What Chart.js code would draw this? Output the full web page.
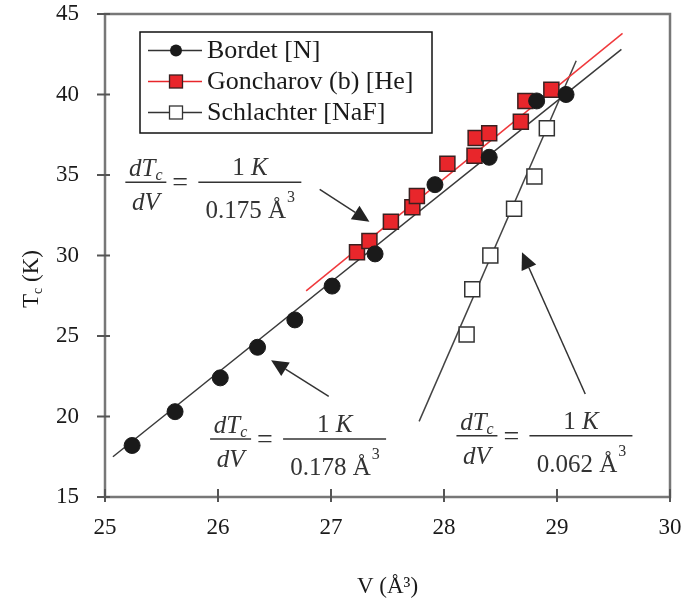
<!DOCTYPE html>
<html>
<head>
<meta charset="utf-8">
<script src="https://cdn.jsdelivr.net/npm/chart.js@4.4.0/dist/chart.umd.min.js"></script>
<style>
  html, body { margin: 0; padding: 0; background: #fff; }
  #wrap { width: 683px; height: 601px; }
</style>
</head>
<body>
<div id="wrap"><canvas id="tc-chart" width="683" height="601"></canvas></div>
<script>
// axis ticks
const xTicks = [25, 26, 27, 28, 29, 30];
const yTicks = [15, 20, 25, 30, 35, 40, 45];

const seriesNames = ['Bordet [N]', 'Goncharov (b) [He]', 'Schlachter [NaF]'];

// measured points (V in A^3, Tc in K)
const bordetV = [25.24, 25.62, 26.02, 26.35, 26.68, 27.01, 27.39, 27.92, 28.40, 28.82, 29.08];
const bordetTc = [18.2, 20.3, 22.4, 24.3, 26.0, 28.1, 30.1, 34.4, 36.1, 39.6, 40.0];

const goncharovV = [27.23, 27.34, 27.53, 27.72, 27.76, 28.03, 28.27, 28.28, 28.40, 28.68, 28.72, 28.95];
const goncharovTc = [30.2, 30.9, 32.1, 33.0, 33.7, 35.7, 36.2, 37.3, 37.6, 38.3, 39.6, 40.3];

const schlachterV = [28.20, 28.25, 28.41, 28.62, 28.80, 28.91];
const schlachterTc = [25.1, 27.9, 30.0, 32.9, 34.9, 37.9];

// linear fits (end points)
const bordetFitV = [25.07, 29.57];
const bordetFitTc = [17.5, 42.8];
const goncharovFitV = [26.78, 29.58];
const goncharovFitTc = [27.8, 43.8];
const schlachterFitV = [27.78, 29.17];
const schlachterFitTc = [19.7, 42.1];

// slope labels: denominator, formula anchor (V, Tc), arrow from / to (V, Tc)
const slopeLabels = ['0.175', '0.178', '0.062'];
const slopeAnchors = [[25.18, 34.55], [25.93, 18.6], [28.11, 18.8]];
const arrowFrom = [[26.90, 34.1], [26.98, 21.25], [29.25, 21.4]];
const arrowTo = [[27.34, 32.1], [26.47, 23.5], [28.69, 30.2]];

const toPts = (xs, ys) => xs.map((x, i) => ({ x: x, y: ys[i] }));

const RED = '#e8262b';
const SERIF = '"Liberation Serif", "DejaVu Serif", serif';

function fitLine(xs, ys, color) {
  return {
    type: 'line', data: toPts(xs, ys), borderColor: color, borderWidth: 1.5,
    pointRadius: 0, showLine: true, fill: false, label: ''
  };
}

// draws box, cross ticks, legend, slope formulas, arrows and y title
const decorPlugin = {
  id: 'decor',
  beforeDatasetsDraw(chart) {
    const { ctx, chartArea: a, scales } = chart;
    ctx.save();
    ctx.strokeStyle = '#777';
    ctx.lineWidth = 2.5;
    ctx.strokeRect(a.left, a.top, a.right - a.left, a.bottom - a.top);
    ctx.lineWidth = 2;
    ctx.strokeStyle = '#555';
    yTicks.forEach(v => {
      const py = scales.y.getPixelForValue(v);
      ctx.beginPath(); ctx.moveTo(a.left - 8, py); ctx.lineTo(a.left + 5, py); ctx.stroke();
    });
    xTicks.forEach(v => {
      const px = scales.x.getPixelForValue(v);
      ctx.beginPath(); ctx.moveTo(px, a.bottom - 8); ctx.lineTo(px, a.bottom + 5); ctx.stroke();
    });
    ctx.restore();
  },
  afterDatasetsDraw(chart) {
    const { ctx, chartArea: a, scales } = chart;
    const X = v => scales.x.getPixelForValue(v);
    const Y = v => scales.y.getPixelForValue(v);
    ctx.save();

    // arrows
    ctx.strokeStyle = '#333';
    ctx.fillStyle = '#222';
    ctx.lineWidth = 1.5;
    arrowFrom.forEach((f, i) => {
      const x0 = X(f[0]), y0 = Y(f[1]), x1 = X(arrowTo[i][0]), y1 = Y(arrowTo[i][1]);
      const ang = Math.atan2(y1 - y0, x1 - x0);
      const hl = 17, hw = 8;
      const bx = x1 - hl * Math.cos(ang), by = y1 - hl * Math.sin(ang);
      ctx.beginPath(); ctx.moveTo(x0, y0); ctx.lineTo(bx, by); ctx.stroke();
      ctx.beginPath();
      ctx.moveTo(x1, y1);
      ctx.lineTo(bx + hw * Math.sin(ang), by - hw * Math.cos(ang));
      ctx.lineTo(bx - hw * Math.sin(ang), by + hw * Math.cos(ang));
      ctx.closePath(); ctx.fill();
    });

    // slope formulas
    slopeLabels.forEach((d, i) => {
      drawFormula(ctx, X(slopeAnchors[i][0]), Y(slopeAnchors[i][1]), d);
    });

    // legend
    const lx = 140, ly = 32, lw = 292, lh = 101;
    ctx.fillStyle = '#fff';
    ctx.fillRect(lx, ly, lw, lh);
    ctx.strokeStyle = '#111';
    ctx.lineWidth = 1.5;
    ctx.strokeRect(lx, ly, lw, lh);
    const rows = [50, 81, 112];
    const ds = chart.data.datasets;
    rows.forEach((ry, i) => {
      const set = ds[i];
      const cx = lx + 36, cy = ry + 0.5;
      ctx.strokeStyle = i === 1 ? RED : '#333';
      ctx.lineWidth = 1.3;
      ctx.beginPath(); ctx.moveTo(lx + 8, cy); ctx.lineTo(lx + 62, cy); ctx.stroke();
      ctx.fillStyle = set.pointBackgroundColor;
      ctx.strokeStyle = set.pointBorderColor;
      ctx.lineWidth = 1.3;
      if (set.pointStyle === 'circle') {
        ctx.beginPath(); ctx.arc(cx, cy, 6, 0, Math.PI * 2); ctx.fill();
      } else {
        ctx.fillRect(cx - 6.5, cy - 6.5, 13, 13);
        ctx.strokeRect(cx - 6.5, cy - 6.5, 13, 13);
      }
      ctx.fillStyle = '#1a1a1a';
      ctx.font = '26px ' + SERIF;
      ctx.textBaseline = 'middle';
      ctx.textAlign = 'left';
      ctx.fillText(set.label, lx + 67, cy + 1);
    });

    // y axis title: T_c (K)
    ctx.translate(30, 279);
    ctx.rotate(-Math.PI / 2);
    ctx.fillStyle = '#1a1a1a';
    ctx.textBaseline = 'alphabetic';
    ctx.font = '23px ' + SERIF;
    const wT = ctx.measureText('T').width;
    ctx.font = '14px ' + SERIF;
    const wc = ctx.measureText('c').width;
    ctx.font = '23px ' + SERIF;
    const wK = ctx.measureText(' (K)').width;
    const tw = wT + wc + wK;
    let tx = -tw / 2;
    ctx.fillText('T', tx, 8); tx += wT;
    ctx.font = '14px ' + SERIF;
    ctx.fillText('c', tx, 12); tx += wc;
    ctx.font = '23px ' + SERIF;
    ctx.fillText(' (K)', tx, 8);
    ctx.restore();
  }
};

function drawFormula(ctx, x, y, denom) {
  ctx.save();
  ctx.fillStyle = '#333';
  ctx.strokeStyle = '#333';
  ctx.lineWidth = 1.4;
  ctx.textBaseline = 'alphabetic';
  ctx.textAlign = 'left';
  const big = 25;
  const it = 'italic ' + big + 'px ' + SERIF;
  const up = big + 'px ' + SERIF;
  const sm = 'italic 16px ' + SERIF;

  // left fraction dTc / dV
  const lw = 41;
  ctx.beginPath(); ctx.moveTo(x, y); ctx.lineTo(x + lw, y); ctx.stroke();
  ctx.font = it;
  const wdT = ctx.measureText('dT').width;
  ctx.font = sm;
  const wc = ctx.measureText('c').width;
  let nx = x + (lw - wdT - wc) / 2;
  ctx.font = it;
  ctx.fillText('dT', nx, y - 6);
  ctx.font = sm;
  ctx.fillText('c', nx + wdT, y - 2);
  ctx.font = it;
  const wdV = ctx.measureText('dV').width;
  ctx.fillText('dV', x + (lw - wdV) / 2, y + 28);

  // equals
  ctx.font = '28px ' + SERIF;
  ctx.fillText('=', x + 47, y + 9);

  // right fraction 1 K / 0.xxx A^3
  const rx = x + 73, rw = 103;
  ctx.beginPath(); ctx.moveTo(rx, y); ctx.lineTo(rx + rw, y); ctx.stroke();
  ctx.font = up;
  const w1 = ctx.measureText('1 ').width;
  ctx.font = it;
  const wK = ctx.measureText('K').width;
  let kx = rx + (rw - w1 - wK) / 2;
  ctx.font = up;
  ctx.fillText('1 ', kx, y - 7);
  ctx.font = it;
  ctx.fillText('K', kx + w1, y - 7);
  ctx.font = up;
  const dTxt = denom + ' \u00C5';
  const wd = ctx.measureText(dTxt).width;
  ctx.font = '16px ' + SERIF;
  const w3 = ctx.measureText('3').width;
  ctx.font = up;
  const dx = rx + (rw - wd - w3) / 2;
  ctx.fillText(dTxt, dx, y + 36);
  ctx.font = '16px ' + SERIF;
  ctx.fillText('3', dx + wd + 1, y + 20);
  ctx.restore();
}

const ctx = document.getElementById('tc-chart').getContext('2d');
new Chart(ctx, {
  type: 'scatter',
  data: {
    datasets: [
      {
        label: seriesNames[0], data: toPts(bordetV, bordetTc),
        pointStyle: 'circle', pointRadius: 8, pointHoverRadius: 8,
        pointBackgroundColor: '#1a1a1a', pointBorderColor: '#1a1a1a', pointBorderWidth: 1
      },
      {
        label: seriesNames[1], data: toPts(goncharovV, goncharovTc),
        pointStyle: 'rect', pointRadius: 10.6, pointHoverRadius: 10.6,
        pointBackgroundColor: RED, pointBorderColor: '#3a2020', pointBorderWidth: 1.5
      },
      {
        label: seriesNames[2], data: toPts(schlachterV, schlachterTc),
        pointStyle: 'rect', pointRadius: 10.6, pointHoverRadius: 10.6,
        pointBackgroundColor: '#ffffff', pointBorderColor: '#333333', pointBorderWidth: 1.5
      },
      fitLine(bordetFitV, bordetFitTc, '#3a3a3a'),
      fitLine(goncharovFitV, goncharovFitTc, '#f0393c'),
      fitLine(schlachterFitV, schlachterFitTc, '#444444')
    ]
  },
  options: {
    responsive: false,
    animation: false,
    devicePixelRatio: 1,
    layout: { autoPadding: false, padding: { top: 14, right: 13, left: 0, bottom: 0 } },
    plugins: { legend: { display: false }, tooltip: { enabled: false } },
    scales: {
      x: {
        type: 'linear', min: 25, max: 30,
        afterFit: s => { s.height = 104; s.paddingLeft = 0; s.paddingRight = 0; },
        afterBuildTicks: s => { s.ticks = xTicks.map(v => ({ value: v })); },
        grid: { display: false },
        border: { display: false },
        ticks: { padding: 9, color: '#1a1a1a', font: { family: SERIF, size: 23 } },
        title: {
          display: true, text: 'V (\u00C5\u00B3)', color: '#1a1a1a',
          font: { family: SERIF, size: 23 }, padding: { top: 12, bottom: 0 }
        }
      },
      y: {
        type: 'linear', min: 15, max: 45,
        afterFit: s => { s.width = 105; s.paddingTop = 0; s.paddingBottom = 0; },
        afterBuildTicks: s => { s.ticks = yTicks.map(v => ({ value: v })); },
        grid: { display: false },
        border: { display: false },
        ticks: { padding: 18, color: '#1a1a1a', font: { family: SERIF, size: 23 } }
      }
    }
  },
  plugins: [decorPlugin]
});
</script>
</body>
</html>
